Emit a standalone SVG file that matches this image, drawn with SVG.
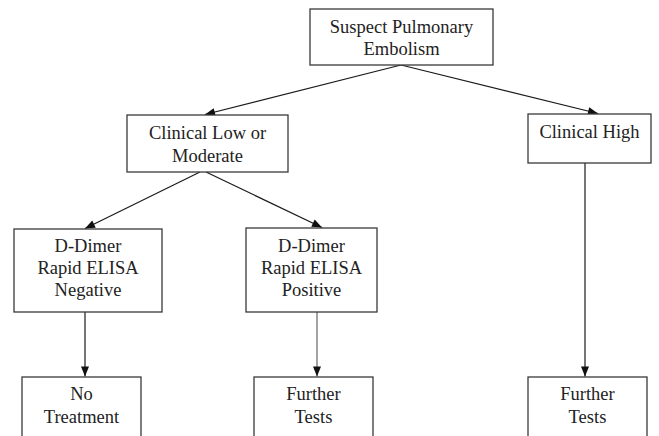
<svg xmlns="http://www.w3.org/2000/svg" xmlns:xlink="http://www.w3.org/1999/xlink" width="659" height="436" viewBox="0 0 659 436">
<defs>
<path id="arr" d="M0,0 L-4,-10 L4,-10 z" fill="#111"/>
</defs>
<g id="connectors" stroke="#1a1a1a" stroke-width="1.2" fill="none">
<line x1="401" y1="65" x2="205" y2="114.5"/>
<line x1="401" y1="65" x2="598" y2="113.5"/>
<line x1="200" y1="172" x2="85" y2="228.5"/>
<line x1="206" y1="172" x2="322" y2="227.5"/>
<line x1="85" y1="312" x2="85" y2="376.5"/>
<line x1="317" y1="312" x2="317" y2="376.5" stroke="#666"/>
<line x1="585" y1="163" x2="585" y2="376.5"/>
<use xlink:href="#arr" href="#arr" stroke="none" transform="translate(205,114.5) rotate(75.83)"/>
<use xlink:href="#arr" href="#arr" stroke="none" transform="translate(598,113.5) rotate(-76.17)"/>
<use xlink:href="#arr" href="#arr" stroke="none" transform="translate(85,228.5) rotate(63.83)"/>
<use xlink:href="#arr" href="#arr" stroke="none" transform="translate(322,227.5) rotate(-64.43)"/>
<use xlink:href="#arr" href="#arr" stroke="none" transform="translate(85,376.5)"/>
<use xlink:href="#arr" href="#arr" stroke="none" transform="translate(317,376.5)"/>
<use xlink:href="#arr" href="#arr" stroke="none" transform="translate(585,376.5)"/>
</g>
<g fill="#fff" stroke="#3a3a3a" stroke-width="1.3">
<rect id="suspect-box" x="310" y="9" width="183" height="56"/>
<rect id="clinical-low-box" x="127" y="115" width="161" height="57"/>
<rect id="clinical-high-box" x="528" y="114" width="123" height="49"/>
<rect id="ddimer-neg-box" x="14" y="229" width="148" height="83"/>
<rect id="ddimer-pos-box" x="246" y="228" width="131" height="84"/>
<rect id="no-treatment-box" x="22" y="377" width="119" height="70"/>
<rect id="further-1-box" x="254" y="377" width="119" height="70"/>
<rect id="further-2-box" x="528" y="377" width="119" height="70"/>
</g>
<g font-family="Liberation Serif" font-size="18.5" fill="#222" text-anchor="middle">
<g id="suspect">
<text x="401.5" y="33">Suspect Pulmonary</text>
<text x="401.5" y="55">Embolism</text>
</g>
<g id="clinical-low">
<text x="207.5" y="139">Clinical Low or</text>
<text x="207.5" y="162">Moderate</text>
</g>
<g id="clinical-high">
<text x="589.5" y="138">Clinical High</text>
</g>
<g id="ddimer-neg">
<text x="88" y="252">D-Dimer</text>
<text x="88" y="274">Rapid ELISA</text>
<text x="88" y="296">Negative</text>
</g>
<g id="ddimer-pos">
<text x="311.5" y="252">D-Dimer</text>
<text x="311.5" y="274">Rapid ELISA</text>
<text x="311.5" y="296">Positive</text>
</g>
<g id="no-treatment">
<text x="81.5" y="400">No</text>
<text x="81.5" y="423">Treatment</text>
</g>
<g id="further-1">
<text x="313.5" y="400">Further</text>
<text x="313.5" y="423">Tests</text>
</g>
<g id="further-2">
<text x="587.5" y="400">Further</text>
<text x="587.5" y="423">Tests</text>
</g>
</g>
</svg>
